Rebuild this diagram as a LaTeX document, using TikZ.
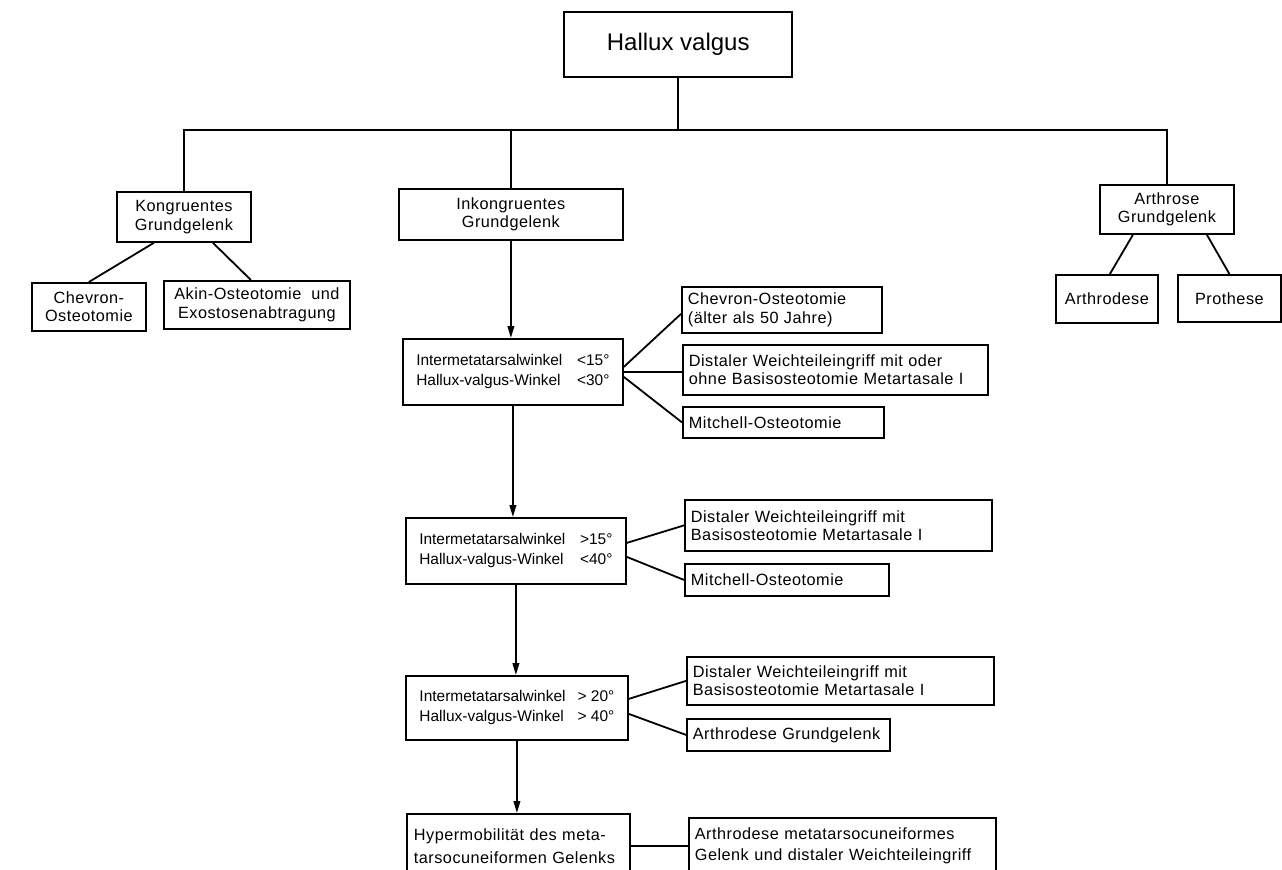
\documentclass[tikz,border=0pt]{standalone}
\usepackage{fontspec}
\setmainfont{Liberation Sans}
\newfontfamily\boxfont{Liberation Sans}[LetterSpace=3,WordSpace=2]
\usetikzlibrary{arrows.meta,calc}
\newlength{\px}\setlength{\px}{0.75pt}
\begin{document}
\begin{tikzpicture}[x=0.75pt,y=-0.75pt,
  box/.style={draw, line width=1.35pt, anchor=north west, inner sep=0pt, font=\boxfont\fontsize{12.2}{13.8}\selectfont},
  cbox/.style={box, align=center},
  lbox/.style={box, align=left, inner xsep=6\px, text width=#1},
  ibox/.style={box, font=\rmfamily\fontsize{11.6}{15}\selectfont},
  conn/.style={line width=1.35pt},
  arr/.style={conn, -{Triangle[length=9pt,width=5pt]}}]
\useasboundingbox (0,0) rectangle (1282,870);
\fill[white] (0,0) rectangle (1282,870);

% top
\node[cbox, line width=1.8pt, minimum width=228\px, minimum height=65\px, font=\rmfamily\fontsize{18}{20}\selectfont] (hv) at (563,11) {Hallux valgus};
\node[cbox, minimum width=134\px, minimum height=50\px] (kon) at (116,191) {Kongruentes\\Grundgelenk};
\node[cbox, minimum width=224\px, minimum height=51\px] (ink) at (398,188) {Inkongruentes\\Grundgelenk};
\node[cbox, minimum width=134\px, minimum height=49\px] (arth) at (1099,184) {Arthrose\\Grundgelenk};

\node[cbox, minimum width=114\px, minimum height=48\px] (chevL) at (31,282) {Chevron-\\Osteotomie};
\node[cbox, minimum width=186\px, minimum height=48\px] (akin) at (163,280) {Akin-Osteotomie und\\Exostosenabtragung};
\node[cbox, minimum width=102\px, minimum height=48\px] (arthd) at (1055,274) {Arthrodese};
\node[cbox, minimum width=103\px, minimum height=47\px] (proth) at (1177,274) {Prothese};

% column
\node[ibox, minimum width=220\px, minimum height=66\px] (int1) at (402,338) {\begin{tabular}{@{}l@{\hspace{11pt}}l@{}}Intermetatarsalwinkel & <15°\\ Hallux-valgus-Winkel & <30°\end{tabular}};
\node[ibox, minimum width=220\px, minimum height=66\px] (int2) at (405,517) {\begin{tabular}{@{}l@{\hspace{11pt}}l@{}}Intermetatarsalwinkel & >15°\\ Hallux-valgus-Winkel & <40°\end{tabular}};
\node[ibox, minimum width=222\px, minimum height=64\px] (int3) at (405,675) {\begin{tabular}{@{}l@{\hspace{9pt}}l@{}}Intermetatarsalwinkel & > 20°\\ Hallux-valgus-Winkel & > 40°\end{tabular}};
\node[lbox=209\px, inner xsep=7\px, minimum height=64\px, font=\boxfont\fontsize{12.2}{17}\selectfont] (hyp) at (406,813) {Hypermobilität des meta-\\tarsocuneiformen Gelenks};

% right
\node[lbox=188\px, minimum height=46\px] (chev2) at (681,286) {Chevron-Osteotomie\\(älter als 50 Jahre)};
\node[lbox=293\px, minimum height=50\px] (dist1) at (682,344) {Distaler Weichteileingriff mit oder\\ohne Basisosteotomie Metartasale I};
\node[lbox=189\px, minimum height=31\px] (mit1) at (682,406) {Mitchell-Osteotomie};
\node[lbox=295\px, minimum height=51\px] (dist2) at (684,499) {Distaler Weichteileingriff mit\\Basisosteotomie Metartasale I};
\node[lbox=192\px, minimum height=32\px] (mit2) at (684,563) {Mitchell-Osteotomie};
\node[lbox=295\px, minimum height=48\px] (dist3) at (686,656) {Distaler Weichteileingriff mit\\Basisosteotomie Metartasale I};
\node[lbox=191\px, minimum height=32\px] (arthg) at (686,718) {Arthrodese Grundgelenk};
\node[lbox=295\px, minimum height=56\px, font=\boxfont\fontsize{12.2}{16}\selectfont] (arthmt) at (688,817) {Arthrodese metatarsocuneiformes\\Gelenk und distaler Weichteileingriff};

% connectors
\coordinate (bar) at (0,130);
\draw[conn] (hv.south) -- (hv.south |- bar);
\draw[conn] (kon.north) -- (kon.north |- bar) -- (arth.north |- bar) -- (arth.north);
\draw[conn] (ink.north) -- (ink.north |- bar);
\draw[conn] ($(kon.south)+(-30,0)$) -- (chevL.north);
\draw[conn] ($(kon.south)+(29,0)$) -- ($(akin.north)+(-6,0)$);
\draw[conn] ($(arth.south)+(-34,0)$) -- ($(arthd.north)+(3,0)$);
\draw[conn] ($(arth.south)+(40,0)$) -- (proth.north);

\draw[arr] (ink.south) -- (ink.south |- int1.north);
\draw[arr] (int1.south) -- (int1.south |- int2.north);
\draw[arr] (int2.south) -- (int2.south |- int3.north);
\draw[arr] (int3.south) -- (int3.south |- hyp.north);

\draw[conn] ($(int1.east)+(0,-5)$) -- ($(chev2.west)+(0,4)$);
\draw[conn] (int1.east) -- (int1.east -| dist1.west);
\draw[conn] ($(int1.east)+(0,5)$) -- (mit1.west);
\draw[conn] ($(int2.east)+(0,-8)$) -- (dist2.west);
\draw[conn] ($(int2.east)+(0,6)$) -- (mit2.west);
\draw[conn] ($(int3.east)+(0,-9)$) -- (dist3.west);
\draw[conn] ($(int3.east)+(0,6)$) -- (arthg.west);
\draw[conn] (hyp.east) -- (hyp.east -| arthmt.west);
\end{tikzpicture}
\end{document}
